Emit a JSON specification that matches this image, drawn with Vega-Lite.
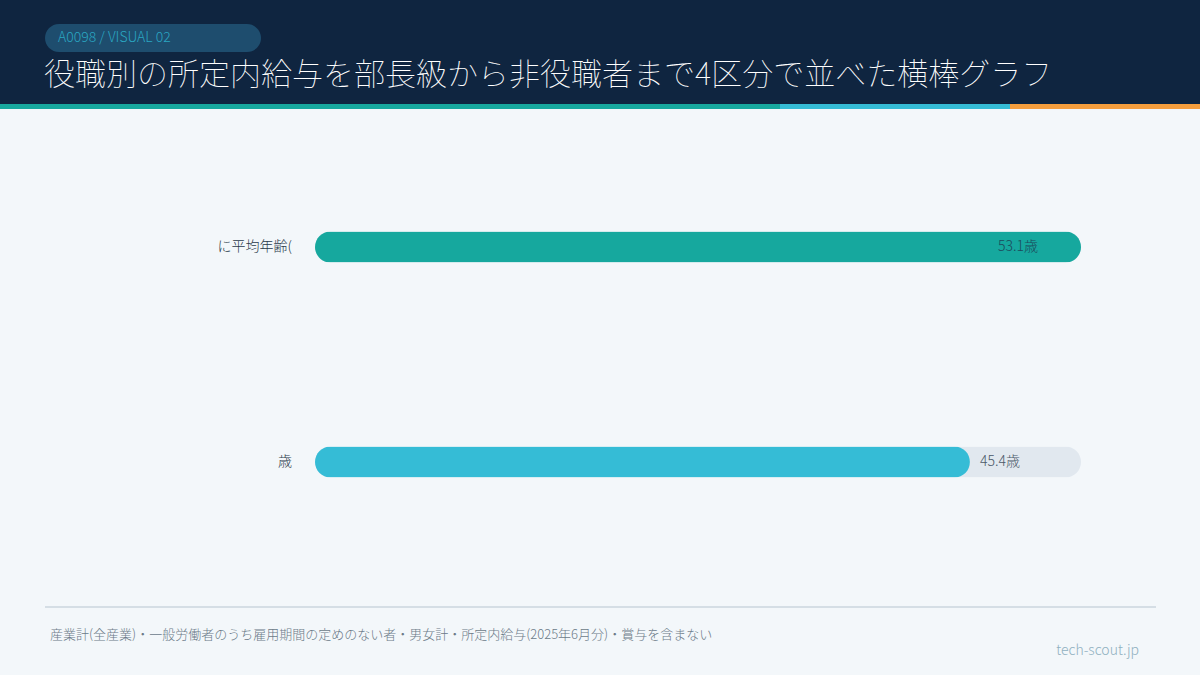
{
  "$schema": "https://vega.github.io/schema/vega-lite/v6.json",
  "width": 1200,
  "height": 675,
  "autosize": {"type": "fit", "contains": "padding"},
  "padding": 0,
  "background": "#f3f7fa",
  "config": {
    "view": {"stroke": null},
    "font": "Noto Sans CJK JP",
    "text": {"font": "Noto Sans CJK JP", "fontWeight": 300}
  },
  "layer": [
    {
      "data": {"values": [{}]},
      "layer": [
        {"mark": {"type": "rect", "color": "#0f2540"}, "encoding": {"x": {"value": 0}, "x2": {"value": 1200}, "y": {"value": 0}, "y2": {"value": 104}}},
        {"mark": {"type": "rect", "color": "#17a89e"}, "encoding": {"x": {"value": 0}, "x2": {"value": 780}, "y": {"value": 104}, "y2": {"value": 109}}},
        {"mark": {"type": "rect", "color": "#35bcd6"}, "encoding": {"x": {"value": 780}, "x2": {"value": 1010}, "y": {"value": 104}, "y2": {"value": 109}}},
        {"mark": {"type": "rect", "color": "#f59e3d"}, "encoding": {"x": {"value": 1010}, "x2": {"value": 1200}, "y": {"value": 104}, "y2": {"value": 109}}},
        {"mark": {"type": "rect", "color": "#1e4d6e", "cornerRadius": 14}, "encoding": {"x": {"value": 45}, "x2": {"value": 261}, "y": {"value": 24}, "y2": {"value": 52}}},
        {"mark": {"type": "text", "text": "A0098 / VISUAL 02", "align": "left", "baseline": "middle", "fontSize": 14, "color": "#2aa6c2"}, "encoding": {"x": {"value": 58}, "y": {"value": 38}}},
        {"mark": {"type": "text", "text": "役職別の所定内給与を部長級から非役職者まで4区分で並べた横棒グラフ", "align": "left", "baseline": "middle", "fontSize": 31, "fontWeight": 100, "color": "#ffffff"}, "encoding": {"x": {"value": 44}, "y": {"value": 76}}},
        {"mark": {"type": "rule", "color": "#d5dee5", "strokeWidth": 2}, "encoding": {"x": {"value": 45}, "x2": {"value": 1156}, "y": {"value": 607}}},
        {"mark": {"type": "text", "text": "産業計(全産業)・一般労働者のうち雇用期間の定めのない者・男女計・所定内給与(2025年6月分)・賞与を含まない", "align": "left", "baseline": "middle", "fontSize": 13, "color": "#6b7a88"}, "encoding": {"x": {"value": 50}, "y": {"value": 635}}},
        {"mark": {"type": "text", "text": "tech-scout.jp", "align": "right", "baseline": "middle", "fontSize": 14, "color": "#8fb0c0"}, "encoding": {"x": {"value": 1139}, "y": {"value": 651}}}
      ]
    },
    {
      "data": {
        "values": [
          {"label": "に平均年齢(", "value": 53.1, "text": "53.1歳"},
          {"label": "歳", "value": 45.4, "text": "45.4歳"}
        ]
      },
      "transform": [{"joinaggregate": [{"op": "max", "field": "value", "as": "max"}]}],
      "encoding": {
        "y": {"field": "label", "type": "nominal", "sort": null, "axis": null,
              "scale": {"range": [139.5, 569.5], "paddingInner": 0, "paddingOuter": 0}}
      },
      "layer": [
        {
          "mark": {"type": "bar", "height": 31, "cornerRadius": 15.5, "color": "#e1e8ef"},
          "encoding": {
            "x": {"field": "max", "type": "quantitative", "scale": {"domain": [0, 53.1], "nice": false, "range": [315, 1081]}, "axis": null}
          }
        },
        {
          "mark": {"type": "bar", "height": 31, "cornerRadius": 15.5},
          "encoding": {
            "x": {"field": "value", "type": "quantitative"},
            "color": {"field": "label", "type": "nominal", "sort": null, "legend": null,
                      "scale": {"range": ["#16a89e", "#35bcd6"]}}
          }
        },
        {
          "mark": {"type": "text", "align": "right", "baseline": "middle", "dx": -23, "fontSize": 14, "color": "#2a3a4a"},
          "encoding": {"x": {"datum": 0, "type": "quantitative"}, "text": {"field": "label"}}
        },
        {
          "transform": [{"filter": "datum.value >= datum.max"}],
          "mark": {"type": "text", "align": "right", "baseline": "middle", "dx": -43, "fontSize": 14, "color": "#1d4a5c"},
          "encoding": {"x": {"field": "value", "type": "quantitative"}, "text": {"field": "text"}}
        },
        {
          "transform": [{"filter": "datum.value < datum.max"}],
          "mark": {"type": "text", "align": "left", "baseline": "middle", "dx": 10, "fontSize": 14, "color": "#4a5868"},
          "encoding": {"x": {"field": "value", "type": "quantitative"}, "text": {"field": "text"}}
        }
      ]
    }
  ]
}
